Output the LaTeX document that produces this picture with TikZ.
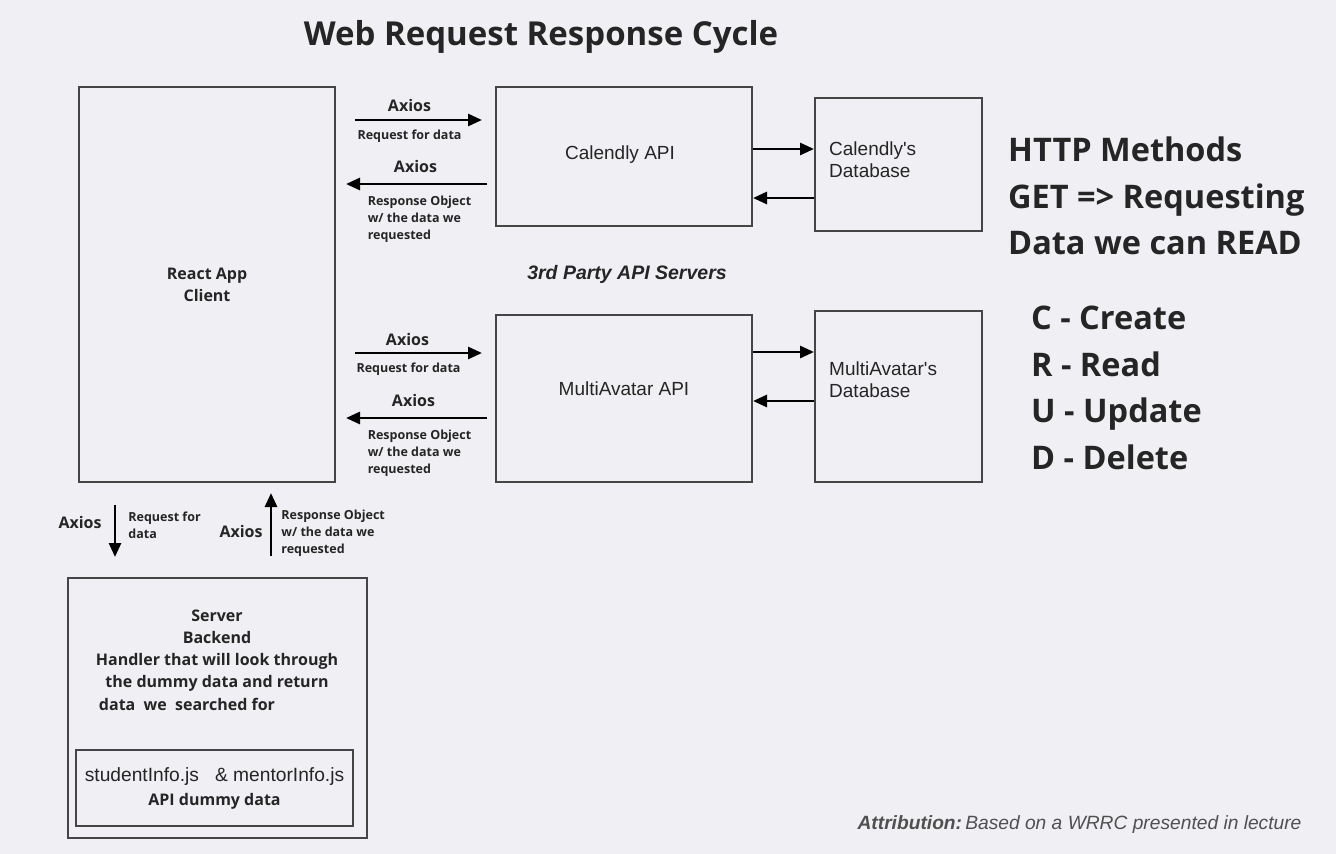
\documentclass[tikz,border=0pt]{standalone}
\usepackage{fontspec}
\setmainfont{Liberation Sans}
\newfontfamily\osans{Open Sans}
\usetikzlibrary{arrows.meta, positioning, calc}
\definecolor{board}{HTML}{F0EFF3}
\definecolor{ink}{HTML}{252525}
\definecolor{edge}{HTML}{454545}
\definecolor{note}{HTML}{505050}

\tikzset{
  box/.style={draw=edge, line width=2pt, inner sep=0pt, text=ink, align=center},
  arr/.style={line width=2.8pt, -{Triangle[length=14pt,width=12pt]}},
  lbl/.style={font=\osans\bfseries\fontsize{16}{22}\selectfont, text=ink, inner sep=3pt},
  small/.style={font=\osans\bfseries\fontsize{12.5}{17}\selectfont, text=ink, align=left, inner sep=3pt},
  api/.style={font=\fontsize{19}{22}\selectfont, text=ink},
  big/.style={font=\osans\bfseries\fontsize{32.5}{46.7}\selectfont, text=ink, align=left, inner sep=0pt, anchor=west},
}

\begin{document}
\begin{tikzpicture}[x=1pt, y=-1pt]
    % Board
    \fill[board] (0,0) rectangle (1336,854);
    \useasboundingbox (0,0) rectangle (1336,854);
    \node[font=\osans\bfseries\fontsize{33}{38}\selectfont, text=ink] (title) at (541,37) {Web Request Response Cycle};

    % Client and server
    \node[box, minimum width=256pt, minimum height=395pt, lbl] (client) at (207,284.5) {React App\\Client};
    \node[box, minimum width=299pt, minimum height=260pt] (server) at (217.5,708) {};
    \node[lbl, align=center, font=\osans\bfseries\fontsize{16}{22.2}\selectfont] (srvtext) at (217,660)
        {Server\\Backend\\Handler that will look through\\the dummy data and return\\data\ \ we\ \ searched for\hspace*{60pt}};
    \node[box, minimum width=277pt, minimum height=76pt, font=\fontsize{19.2}{24}\selectfont] (dummy) at (214.5,788)
        {studentInfo.js\ \ \ \& mentorInfo.js\\{\osans\bfseries\fontsize{16}{24}\selectfont API dummy data}};

    % 3rd party APIs
    \node[box, minimum width=256pt, minimum height=139pt] (cal) at (624,156.5) {};
    \node[api] (caltext) at ([xshift=-4pt, yshift=1.5pt]cal.center) {Calendly API};
    \node[box, minimum width=167pt, minimum height=133pt] (caldb) at (898.5,164.5) {};
    \node[api, align=left, anchor=west, inner sep=0pt] (caldbtext) at ([xshift=15pt, yshift=4.5pt]caldb.west) {Calendly\textquotesingle s\\Database};
    \node[box, minimum width=256pt, minimum height=167pt] (ma) at (624,398.5) {};
    \node[api] (matext) at ([yshift=9.5pt]ma.center) {MultiAvatar API};
    \node[box, minimum width=167pt, minimum height=171pt] (madb) at (898.5,396.5) {};
    \node[api, align=left, anchor=west, inner sep=0pt] (madbtext) at ([xshift=15pt, yshift=16.5pt]madb.west) {MultiAvatar\textquotesingle s\\Database};
    \node[font=\bfseries\itshape\fontsize{19.5}{22}\selectfont, text=ink] (third) at (627,274) {3rd Party API Servers};

    % Client <-> Calendly
    \draw[arr, shorten <=19pt, shorten >=13pt] ([yshift=36.5pt]cal.west -| client.east) -- ([yshift=36.5pt]cal.west)
        node[lbl, midway, above, xshift=-6pt, yshift=4pt] {Axios} node[small, midway, below, xshift=-6pt, yshift=-6pt] {Request for data};
    \draw[arr, shorten <=8pt, shorten >=10pt] ([yshift=-27.5pt]cal.west) -- ([yshift=-27.5pt]cal.west -| client.east)
        node[lbl, midway, above, yshift=7pt] {Axios} node[small, midway, below, xshift=4pt, yshift=-8pt] {Response Object\\w/ the data we\\requested};
    \draw[arr] ([yshift=7.5pt]cal.east) -- ([yshift=7.5pt]cal.east -| caldb.west);
    \draw[arr] ([yshift=-41.5pt]cal.east -| caldb.west) -- ([yshift=-41.5pt]cal.east);

    % Client <-> MultiAvatar
    \draw[arr, shorten <=19pt, shorten >=13pt] ([yshift=45.5pt]ma.west -| client.east) -- ([yshift=45.5pt]ma.west)
        node[lbl, midway, above, xshift=-8pt, yshift=3pt] {Axios} node[small, midway, below, xshift=-7pt, yshift=-6pt] {Request for data};
    \draw[arr, shorten <=8pt, shorten >=10pt] ([yshift=-19.5pt]ma.west) -- ([yshift=-19.5pt]ma.west -| client.east)
        node[lbl, midway, above, xshift=-2pt, yshift=7pt] {Axios} node[small, midway, below, xshift=4pt, yshift=-8pt] {Response Object\\w/ the data we\\requested};
    \draw[arr] ([yshift=46.5pt]ma.east) -- ([yshift=46.5pt]ma.east -| madb.west);
    \draw[arr] ([yshift=-2.5pt]ma.east -| madb.west) -- ([yshift=-2.5pt]ma.east);

    % Client <-> Server
    \draw[arr, shorten <=22pt, shorten >=20pt] ([xshift=-92pt]client.south) -- ([xshift=-92pt]client.south |- server.north)
        node[lbl, midway, left, xshift=-9pt, yshift=8pt] {Axios} node[small, midway, right, xshift=9pt, yshift=5pt] {Request for\\data};
    \draw[arr, shorten <=21pt, shorten >=10pt] ([xshift=64pt]client.south |- server.north) -- ([xshift=64pt]client.south)
        node[lbl, midway, left, xshift=-4pt, yshift=-1pt] {Axios} node[small, midway, right, xshift=6pt, yshift=-3pt] {Response Object\\w/ the data we\\requested};

    % HTTP notes
    \node[big] (http) at (1008,196) {HTTP Methods\\GET => Requesting\\Data we can READ};
    \node[big] (crud) at (1031,388) {C - Create\\R - Read\\U - Update\\D - Delete};

    \node[anchor=east, text=note, font=\itshape\fontsize{19.2}{22}\selectfont] (attr) at (1305,825) {{\bfseries Attribution:}\,Based on a WRRC presented in lecture};
\end{tikzpicture}
\end{document}
